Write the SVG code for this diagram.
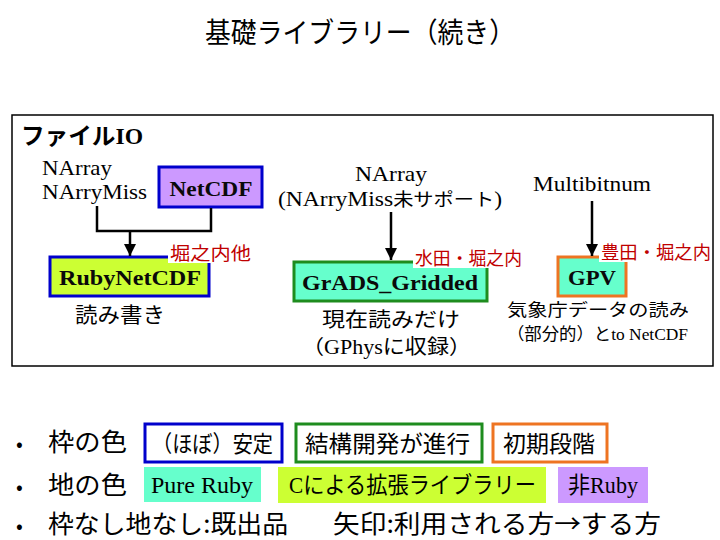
<svg xmlns="http://www.w3.org/2000/svg" width="720" height="540" viewBox="0 0 720 540">
<defs>
<style>
.jp{font-family:"Noto Sans CJK JP","Noto Sans",sans-serif;fill:#000}
.se{font-family:"Liberation Serif","DejaVu Serif",serif}
.bs{font-family:"Liberation Serif","DejaVu Serif",serif;font-weight:bold;fill:#0a0a0a}
.red{font-family:"Noto Sans CJK JP","Noto Sans",sans-serif;fill:#C00000;font-size:18px}
.lbg{fill:#fff}
.bl{stroke:#0000CC;stroke-width:3}
.gr{stroke:#1E8C1E;stroke-width:3}
.or{stroke:#EE7422;stroke-width:3}
.fP{fill:#66FFCC}
.fC{fill:#CCFF33}
.fN{fill:#CC99FF}
.conn{fill:none;stroke:#000;stroke-width:2.5}
</style>
<marker id="ah" viewBox="0 0 10 10" refX="10" refY="5" markerUnits="userSpaceOnUse" markerWidth="12" markerHeight="13" orient="auto">
<path d="M0,0 L10,5 L0,10 z" fill="#000"/>
</marker>
</defs>
<rect width="720" height="540" fill="#fff"/>

<g id="title">
<text class="jp" x="205" y="43" font-size="28" textLength="310" lengthAdjust="spacingAndGlyphs">基礎ライブラリー（続き）</text>
</g>

<g id="frame">
<rect x="12" y="115" width="701" height="251" fill="none" stroke="#000" stroke-width="1.5"/>
<text x="21" y="144" font-size="23" font-weight="bold" textLength="122" lengthAdjust="spacingAndGlyphs"><tspan class="jp" font-weight="bold">ファイル</tspan><tspan class="se" font-weight="bold">IO</tspan></text>
</g>

<g id="narray1">
<text class="se" font-family="Liberation Serif, serif" x="42" y="175" font-size="21" textLength="70" lengthAdjust="spacingAndGlyphs">NArray</text>
<text class="se" font-family="Liberation Serif, serif" x="42" y="199" font-size="21" textLength="105" lengthAdjust="spacingAndGlyphs">NArryMiss</text>
</g>

<g id="netcdf">
<rect x="159" y="167" width="103" height="40" class="fN bl"/>
<text class="bs" x="211" y="196" font-size="22" text-anchor="middle" textLength="83" lengthAdjust="spacingAndGlyphs">NetCDF</text>
</g>

<g id="rubynetcdf">
<rect x="50" y="257" width="159" height="39" class="fC bl"/>
<text class="bs" x="130" y="285" font-size="22" text-anchor="middle" textLength="142" lengthAdjust="spacingAndGlyphs">RubyNetCDF</text>
<text class="jp" x="75" y="322" font-size="21" textLength="90" lengthAdjust="spacingAndGlyphs">読み書き</text>
</g>

<g id="narray2">
<text class="se" font-family="Liberation Serif, serif" x="391" y="181" font-size="21" text-anchor="middle" textLength="72" lengthAdjust="spacingAndGlyphs">NArray</text>
<text x="390" y="206" font-size="21" text-anchor="middle" textLength="224" lengthAdjust="spacingAndGlyphs"><tspan class="se">(NArryMiss</tspan><tspan class="jp" font-size="18">未サポート</tspan><tspan class="se">)</tspan></text>
</g>

<g id="multibitnum">
<text class="se" font-family="Liberation Serif, serif" x="592" y="191" font-size="21" text-anchor="middle" textLength="118" lengthAdjust="spacingAndGlyphs">Multibitnum</text>
</g>

<g id="grads">
<rect x="294" y="262" width="193" height="39" class="fP gr"/>
<text class="bs" x="390" y="290" font-size="22" text-anchor="middle" textLength="176" lengthAdjust="spacingAndGlyphs">GrADS_Gridded</text>
<text class="jp" x="322" y="327" font-size="20" textLength="138" lengthAdjust="spacingAndGlyphs">現在読みだけ</text>
<text x="302" y="354" font-size="20" textLength="169" lengthAdjust="spacingAndGlyphs"><tspan class="jp">（</tspan><tspan class="se">GPhys</tspan><tspan class="jp">に収録）</tspan></text>
</g>

<g id="gpv">
<rect x="558" y="257" width="68" height="39" class="fP or"/>
<text class="bs" x="592" y="285" font-size="22" text-anchor="middle" textLength="48" lengthAdjust="spacingAndGlyphs">GPV</text>
<text class="jp" x="507" y="316" font-size="17" textLength="182" lengthAdjust="spacingAndGlyphs">気象庁データの読み</text>
<text x="507" y="340" font-size="17" textLength="181" lengthAdjust="spacingAndGlyphs"><tspan class="jp">（部分的）と</tspan><tspan class="se">to NetCDF</tspan></text>
</g>

<g id="connectors">
<path class="conn" d="M97,206 V231 H211 V208"/>
<path class="conn" d="M130,231 V256" marker-end="url(#ah)"/>
<path class="conn" d="M391,212 V260" marker-end="url(#ah)"/>
<path class="conn" d="M592,201 V256" marker-end="url(#ah)"/>
</g>

<g id="authors">
<rect class="lbg" x="168" y="242" width="86" height="21"/>
<text class="red" x="170" y="260" textLength="81" lengthAdjust="spacingAndGlyphs">堀之内他</text>
<rect class="lbg" x="413" y="247" width="111" height="21"/>
<text class="red" x="415" y="265" textLength="107" lengthAdjust="spacingAndGlyphs">水田・堀之内</text>
<rect class="lbg" x="599" y="241" width="113" height="21"/>
<text class="red" x="601" y="259" textLength="110" lengthAdjust="spacingAndGlyphs">豊田・堀之内</text>
</g>

<g id="legend">
<text class="jp" x="16" y="451" font-size="20">•</text>
<text class="jp" x="16" y="494" font-size="20">•</text>
<text class="jp" x="16" y="533" font-size="20">•</text>
<text class="jp" x="48" y="451" font-size="25" textLength="79" lengthAdjust="spacingAndGlyphs">枠の色</text>
<text class="jp" x="48" y="494" font-size="25" textLength="79" lengthAdjust="spacingAndGlyphs">地の色</text>
<text class="jp" x="48" y="533" font-size="25" textLength="240" lengthAdjust="spacingAndGlyphs">枠なし地なし:既出品</text>
<text class="jp" x="333" y="533" font-size="25" textLength="328" lengthAdjust="spacingAndGlyphs">矢印:利用される方→する方</text>

<g id="leg-stable">
<rect x="145" y="424" width="137" height="38" fill="#fff" class="bl"/>
<text class="jp" x="152" y="452" font-size="23" textLength="121" lengthAdjust="spacingAndGlyphs">（ほぼ）安定</text>
</g>
<g id="leg-dev">
<rect x="296" y="424" width="186" height="38" fill="#fff" class="gr"/>
<text class="jp" x="305" y="452" font-size="23" textLength="165" lengthAdjust="spacingAndGlyphs">結構開発が進行</text>
</g>
<g id="leg-early">
<rect x="493" y="424" width="114" height="38" fill="#fff" class="or"/>
<text class="jp" x="503" y="452" font-size="23" textLength="92" lengthAdjust="spacingAndGlyphs">初期段階</text>
</g>
<g id="leg-pure">
<rect x="144" y="467" width="117" height="35" class="fP"/>
<text class="se" x="151" y="493" font-size="23" textLength="102" lengthAdjust="spacingAndGlyphs">Pure Ruby</text>
</g>
<g id="leg-c">
<rect x="278" y="467" width="268" height="36" class="fC"/>
<text x="289" y="493" font-size="23" textLength="247" lengthAdjust="spacingAndGlyphs"><tspan class="se">C</tspan><tspan class="jp">による拡張ライブラリー</tspan></text>
</g>
<g id="leg-non">
<rect x="558" y="467" width="90" height="36" class="fN"/>
<text x="568" y="493" font-size="23" textLength="70" lengthAdjust="spacingAndGlyphs"><tspan class="jp">非</tspan><tspan class="se">Ruby</tspan></text>
</g>
</g>
</svg>
